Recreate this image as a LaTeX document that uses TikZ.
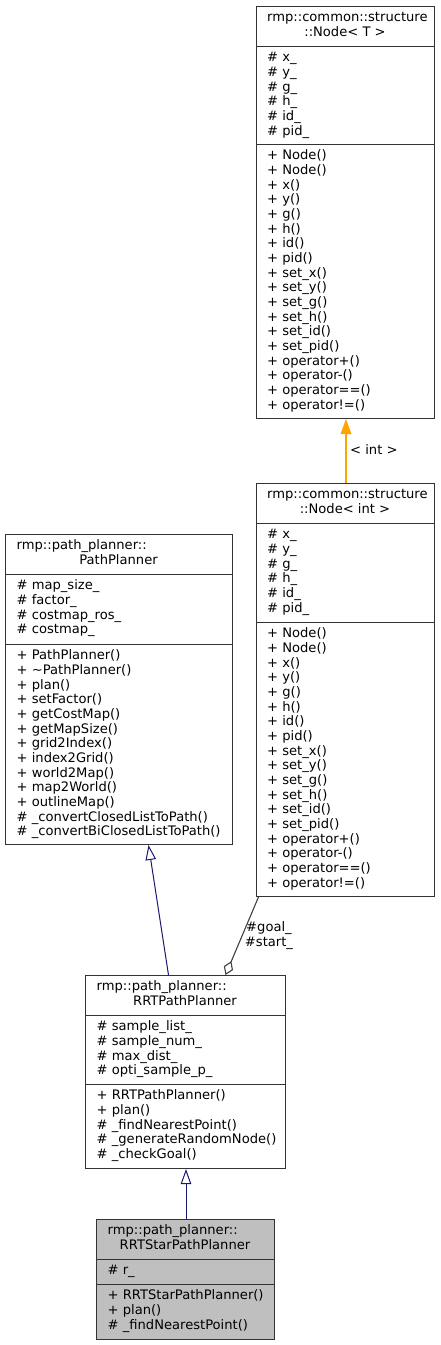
\documentclass[tikz,border=0pt]{standalone}
\usepackage{fontspec,tikz,graphicx}
\setmainfont{DejaVu Sans}
\usetikzlibrary{arrows.meta}
\definecolor{boxline}{HTML}{333333}
\definecolor{edgenavy}{HTML}{191970}
\definecolor{edgeorange}{HTML}{FFA500}
\definecolor{edgegray}{HTML}{404040}
\definecolor{focusfill}{HTML}{BFBFBF}

\begin{document}
\begin{tikzpicture}[x=1pt,y=-1pt,
  classbox/.style={draw=boxline,line width=1pt,rectangle,inner sep=0pt,anchor=north west},
  divider/.style={draw=boxline,line width=1pt},
  member/.style={anchor=base west,inner sep=0pt,font=\fontsize{13.1}{14.67}\selectfont},
  headline/.style={anchor=base,inner sep=0pt,font=\fontsize{13.1}{14.67}\selectfont},
  inherit/.style={draw=edgenavy,line width=1pt,-{Triangle[open,length=15pt,width=10.5pt]}},
  instance/.style={draw=edgeorange,line width=1.1pt,-{Triangle[length=15pt,width=10.7pt]}},
  aggregate/.style={draw=edgegray,line width=1.1pt,-{Diamond[open,length=15pt,width=10pt]}},
  edgetext/.style={inner sep=0pt,font=\fontsize{13.1}{14.67}\selectfont}]
\path[use as bounding box] (0,0) rectangle (440,1345);
\node[classbox,minimum width=178pt,minimum height=412pt] (tmpl) at (256,6) {};
\draw[divider] (256,46) -- (434,46);
\draw[divider] (256,144) -- (434,144);
\node[member] (tmplname) at (267,21.7) {rmp::common::structure};
\node[headline] (tmplname2) at (345,36.4) {::Node< T >};
\foreach \t [count=\i from 0] in {\# x\_,\# y\_,\# g\_,\# h\_,\# id\_,\# pid\_}
  \node[member] (tmplattr\i) at (267,{61.7+14.67*\i}) {\t};
\foreach \t [count=\i from 0] in {+ Node(),+ Node(),+ x(),+ y(),+ g(),+ h(),+ id(),+ pid(),+ set\_x(),+ set\_y(),+ set\_g(),+ set\_h(),+ set\_id(),+ set\_pid(),+ operator+(),+ operator-(),+ operator==(),+ operator!=()}
  \node[member] (tmplop\i) at (267,{159.7+14.67*\i}) {\t};

\node[classbox,minimum width=178pt,minimum height=413pt] (nodeint) at (256,483) {};
\draw[divider] (256,523) -- (434,523);
\draw[divider] (256,622) -- (434,622);
\node[member] (intname) at (267,498.7) {rmp::common::structure};
\node[headline] (intname2) at (345,513.4) {::Node< int >};
\foreach \t [count=\i from 0] in {\# x\_,\# y\_,\# g\_,\# h\_,\# id\_,\# pid\_}
  \node[member] (intattr\i) at (267,{538.7+14.67*\i}) {\t};
\foreach \t [count=\i from 0] in {+ Node(),+ Node(),+ x(),+ y(),+ g(),+ h(),+ id(),+ pid(),+ set\_x(),+ set\_y(),+ set\_g(),+ set\_h(),+ set\_id(),+ set\_pid(),+ operator+(),+ operator-(),+ operator==(),+ operator!=()}
  \node[member] (intop\i) at (267,{637.7+14.67*\i}) {\t};

\node[classbox,minimum width=227pt,minimum height=310pt] (planner) at (5,534) {};
\draw[divider] (5,574) -- (232,574);
\draw[divider] (5,644) -- (232,644);
\node[member] (plannername) at (16.5,549.7) {rmp::path\_planner::};
\node[headline] (plannername2) at (118.5,564.4) {PathPlanner};
\foreach \t [count=\i from 0] in {\# map\_size\_,\# factor\_,\# costmap\_ros\_,\# costmap\_}
  \node[member] (plannerattr\i) at (16.5,{589.7+14.67*\i}) {\t};
\foreach \t [count=\i from 0] in {+ PathPlanner(),+ \textasciitilde PathPlanner(),+ plan(),+ setFactor(),+ getCostMap(),+ getMapSize(),+ grid2Index(),+ index2Grid(),+ world2Map(),+ map2World(),+ outlineMap(),\# \_convertClosedListToPath(),\# \_convertBiClosedListToPath()}
  \node[member] (plannerop\i) at (16.5,{659.7+14.67*\i}) {\t};

\node[classbox,minimum width=200pt,minimum height=193pt] (rrt) at (85,975) {};
\draw[divider] (85,1015) -- (285,1015);
\draw[divider] (85,1084) -- (285,1084);
\node[member] (rrtname) at (96.5,990.7) {rmp::path\_planner::};
\node[headline] (rrtname2) at (185,1005.4) {RRTPathPlanner};
\foreach \t [count=\i from 0] in {\# sample\_list\_,\# sample\_num\_,\# max\_dist\_,\# opti\_sample\_p\_}
  \node[member] (rrtattr\i) at (96.5,{1030.7+14.67*\i}) {\t};
\foreach \t [count=\i from 0] in {+ RRTPathPlanner(),+ plan(),\# \_findNearestPoint(),\# \_generateRandomNode(),\# \_checkGoal()}
  \node[member] (rrtop\i) at (96.5,{1099.7+14.67*\i}) {\t};

\node[classbox,fill=focusfill,minimum width=178pt,minimum height=120pt] (rrtstar) at (96,1219) {};
\draw[divider] (96,1259) -- (274,1259);
\draw[divider] (96,1284) -- (274,1284);
\node[member] (starname) at (107.5,1234.7) {rmp::path\_planner::};
\node[headline] (starname2) at (185,1249.4) {RRTStarPathPlanner};
\node[member] (starattr0) at (107.5,1274.7) {\# r\_};
\foreach \t [count=\i from 0] in {+ RRTStarPathPlanner(),+ plan(),\# \_findNearestPoint()}
  \node[member] (starop\i) at (107.5,{1299.7+14.67*\i}) {\t};

\draw[instance] ([xshift=0.5pt]nodeint.north) -- ([xshift=0.5pt]tmpl.south);
\node[edgetext,anchor=west] (intlabel) at (350,450) {< int >};
\draw[inherit] ([xshift=-17pt]rrt.north) -- ([xshift=29.5pt]planner.south);
\draw[aggregate] ([xshift=-87pt]nodeint.south) -- ([xshift=40pt]rrt.north);
\node[edgetext,align=center] (memberlabel) at (269,935.7) {\#goal\_\\\#start\_};
\draw[inherit] ([xshift=0.5pt]rrtstar.north) -- ([xshift=0.5pt]rrt.south);
\end{tikzpicture}
\end{document}
